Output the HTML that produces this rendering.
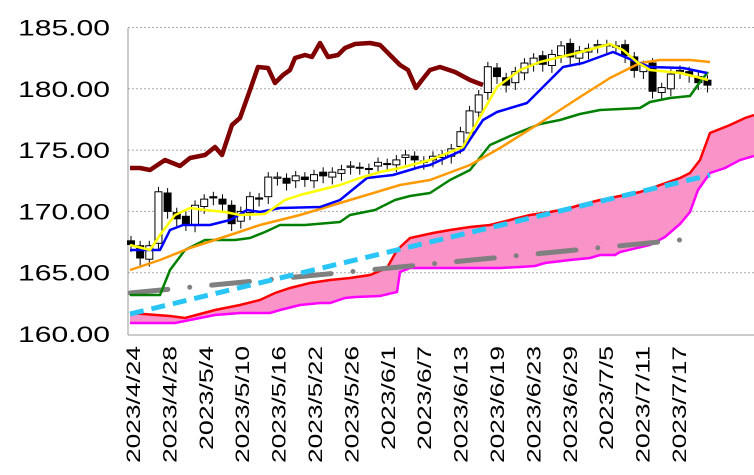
<!DOCTYPE html>
<html><head><meta charset="utf-8"><style>
body{margin:0;background:#fff;}
svg{display:block;font-family:"Liberation Sans","Noto Sans CJK JP",sans-serif;}
</style></head><body>
<svg id="s" width="754" height="475" xmlns="http://www.w3.org/2000/svg"></svg>
<script>
const s=document.getElementById('s');let h='';
const Y=v=>334-(v-160)*12.26;
for(let v=160;v<=185;v+=5){const y=Y(v);
 if(v>160)h+=`<line x1="128" y1="${y}" x2="754" y2="${y}" stroke="#aaa" stroke-dasharray="2 2" stroke-width="1"/>`;
 h+=`<text x="18" y="${y+8}" font-size="22" textLength="92" lengthAdjust="spacingAndGlyphs" fill="#000">${v.toFixed(2)}</text>`;}
h+=`<line x1="128" y1="28" x2="128" y2="335" stroke="#999"/><line x1="128" y1="335" x2="754" y2="335" stroke="#999"/>`;
const labs=["2023/4/24","2023/4/28","2023/5/4","2023/5/10","2023/5/16","2023/5/22","2023/5/26","2023/6/1","2023/6/7","2023/6/13","2023/6/19","2023/6/23","2023/6/29","2023/7/5","2023/7/11","2023/7/17"];
labs.forEach((t,i)=>{const x=133+i*36.4+7;const len=t.length*13;h+=`<text transform="translate(${x},346) rotate(-90)" font-size="19" text-anchor="end" textLength="${len}" lengthAdjust="spacingAndGlyphs" fill="#000">${t}</text>`;});
const P=a=>a.map(p=>p.join(',')).join(' ');
const red=[[130,313],[170,316],[185,318],[200,314],[215,310],[240,305],[260,300],[275,293],[290,288],[310,283],[330,280],[350,278],[370,275],[387,268],[397,250],[410,238],[433,233],[450,230],[470,227],[490,225],[510,220],[530,215],[550,212],[570,208],[580,205],[600,200],[620,196],[640,192],[660,185],[680,178],[690,173],[700,160],[710,133],[730,125],[745,118],[754,115]];
const mag=[[130,323],[175,323],[200,318],[215,315],[240,313],[270,313],[280,310],[300,305],[320,303],[330,303],[345,298],[355,297],[380,296],[397,292],[400,272],[410,268],[500,268],[520,267],[535,266],[545,263],[570,260],[590,258],[600,255],[615,255],[620,252],[650,245],[665,237],[680,224],[690,212],[698,190],[710,173],[725,168],[740,160],[754,156]];
h+=`<polygon points="${P(red)} ${P(mag.slice().reverse())}" fill="#f993c8"/>`;
h+=`<polyline points="${P(red)}" fill="none" stroke="#ff0000" stroke-width="2.5"/>`;
h+=`<polyline points="${P(mag)}" fill="none" stroke="#ff00ff" stroke-width="2.5"/>`;
h+=`<line x1="130" y1="293" x2="680" y2="240" stroke="#808080" stroke-width="5" stroke-linecap="round" stroke-dasharray="38 22 0 22"/>`;
h+=`<line x1="130" y1="314" x2="710" y2="175" stroke="#29c5f6" stroke-width="5" stroke-dasharray="14 8"/>`;
const c=[167.3,166.2,167.2,171.6,170.0,169.4,169.0,170.5,171.0,171.1,170.6,169.0,170.0,171.2,171.0,172.8,172.8,172.3,172.9,172.6,173.0,172.9,173.2,173.4,173.7,173.6,173.5,174.0,173.9,174.2,174.6,174.2,174.0,174.5,174.6,175.1,176.5,178.2,179.5,181.8,181.0,180.3,181.4,182.1,182.5,182.0,182.8,183.5,182.6,183.1,183.3,183.6,183.6,183.4,182.7,181.5,181.9,179.8,180.1,181.2,181.5,181.1,180.5,180.3];
c.forEach((cl,i)=>{const x=131+i*9.15;const o=i?c[i-1]+(i%3==0?0.2:-0.1):167.6;
 const hi=Math.max(o,cl)+0.4,lo=Math.min(o,cl)-0.6;const t=Y(Math.max(o,cl)),b=Y(Math.min(o,cl));
 h+=`<line x1="${x}" y1="${Y(hi)}" x2="${x}" y2="${Y(lo)}" stroke="#000" stroke-width="1"/>`;
 h+=`<rect x="${x-3.5}" y="${t}" width="7" height="${Math.max(b-t,1)}" fill="${cl<o?'#000':'#fff'}" stroke="#000" stroke-width="1"/>`;});
const L=(a,col)=>{h+=`<polyline points="${P(a)}" fill="none" stroke="${col}" stroke-width="2.5" stroke-linejoin="round"/>`;};
L([[130,295],[160,295],[170,270],[185,250],[205,240],[235,240],[250,238],[265,232],[280,225],[305,225],[340,222],[350,215],[375,210],[395,200],[410,196],[430,193],[450,180],[470,170],[490,145],[510,136],[520,132],[540,124],[560,120],[580,114],[600,110],[640,108],[650,102],[670,98],[690,96],[700,82],[708,72]],'#008000');
L([[130,270],[160,260],[190,248],[230,235],[260,225],[300,215],[350,200],[400,185],[430,180],[470,165],[500,148],[540,123],[580,97],[610,78],[640,63],[660,60],[690,60],[710,62]],'#ff9900');
L([[130,250],[160,250],[170,230],[183,225],[210,225],[230,220],[247,210],[260,212],[280,208],[320,207],[340,200],[367,178],[393,175],[420,167],[430,165],[463,150],[483,120],[497,112],[527,103],[540,90],[563,67],[583,63],[613,52],[637,62],[650,67],[683,68],[707,73]],'#0000ff');
L([[130,245],[150,250],[160,235],[175,215],[190,208],[205,210],[225,212],[240,215],[265,214],[285,200],[300,195],[320,190],[340,185],[360,178],[380,172],[400,168],[430,160],[463,147],[480,117],[497,87],[520,70],[540,62],[577,53],[610,44],[623,50],[637,62],[650,70],[680,73],[697,77],[708,80]],'#ffff00');
h+=`<polyline points="${P([[130,168],[140,168],[150,170],[165,160],[180,166],[190,158],[205,155],[215,147],[222,155],[232,125],[240,118],[250,90],[258,67],[268,68],[275,83],[283,75],[290,70],[295,58],[305,55],[312,57],[320,43],[328,57],[338,55],[345,48],[355,44],[370,43],[380,45],[390,55],[400,65],[408,70],[416,88],[422,80],[430,70],[440,67],[455,72],[470,80],[483,85]])}" fill="none" stroke="#800000" stroke-width="4.5" stroke-linejoin="round"/>`;
s.innerHTML=h;
</script>
</body></html>
